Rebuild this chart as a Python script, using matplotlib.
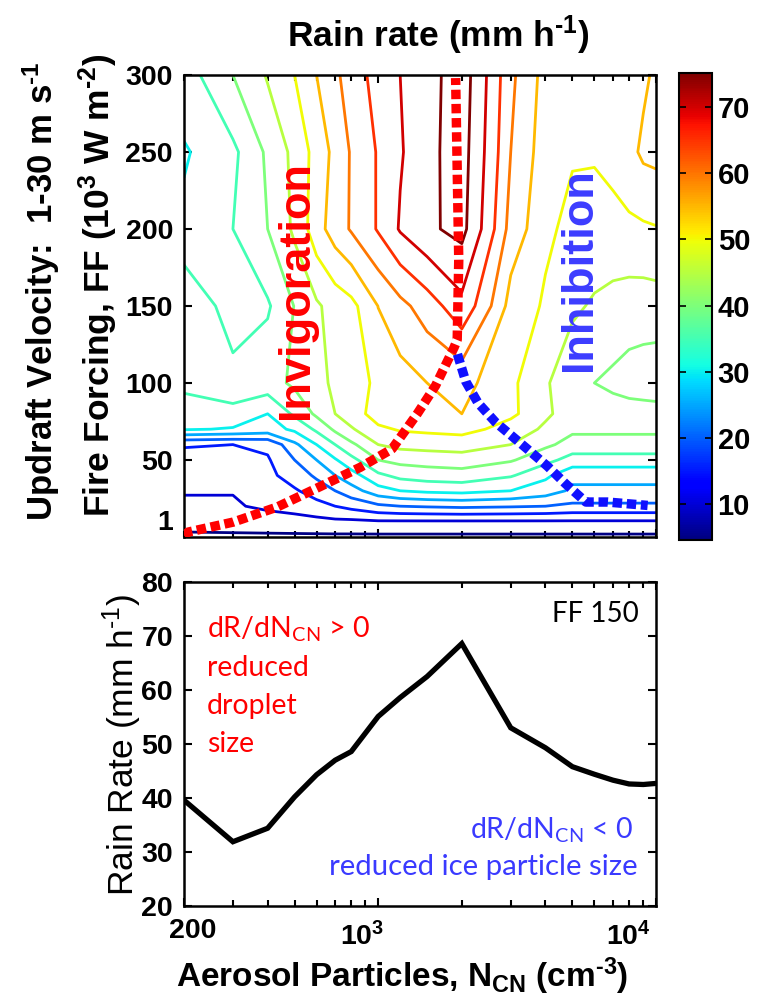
import numpy as np
import matplotlib
matplotlib.use("Agg")
import matplotlib.pyplot as plt
from matplotlib.colors import Normalize
from matplotlib.cm import ScalarMappable
from matplotlib.ticker import LogLocator, NullFormatter, FixedLocator

plt.rcParams['font.family'] = ['Liberation Sans', 'DejaVu Sans']
plt.rcParams['mathtext.fontset'] = 'custom'
plt.rcParams['mathtext.rm'] = 'Liberation Sans'
plt.rcParams['mathtext.bf'] = 'Liberation Sans:bold'
plt.rcParams['mathtext.sf'] = 'Lato'

# ---- data -------------------------------------------------------------
n_cn = [200, 300, 400, 500, 600, 700, 800, 1000, 1200, 1500, 2000,
        3000, 4000, 5000, 6000, 7000, 8000, 9000, 10000]
fire_forcing = [1, 10, 20, 30, 40, 50, 60, 70, 80, 100, 150, 200, 250, 300]

rain_ff1 = [4.5] * 19
rain_ff10 = [6.5, 7, 7.5, 8, 8.5, 9, 9, 9.5, 9.5, 9.5, 9.5, 9.5, 9.5, 9.5, 9.5, 9.5, 9.5, 9.5, 9.5]
rain_ff20 = [9.5, 9.5, 11, 12, 13.5, 15, 16.5, 19, 20, 20.5, 21, 20.5, 20, 19, 19, 19, 19, 19, 19]
rain_ff30 = [10.2, 10.2, 13, 14.5, 17, 20, 23, 28, 30, 31, 31.5, 30, 27.5, 24, 24, 24, 24, 24, 24]
rain_ff40 = [12, 12.5, 14, 17, 21, 25, 28, 34, 36.5, 37.5, 38, 35.5, 31, 26.5, 26.5, 26.5, 26.5, 26.5, 26.5]
rain_ff50 = [13, 13.5, 14.5, 20, 25, 29.5, 33.5, 40, 41.5, 42, 42.5, 40.5, 36.5, 33, 33, 33, 33, 33, 33]
rain_ff60 = [15.5, 15, 16, 24, 30, 35, 39, 45, 46.5, 47, 47.5, 45, 41, 38, 38, 38, 38, 38, 38]
rain_ff70 = [30.5, 29.5, 28, 31, 36, 41, 44.5, 49, 50.5, 51, 51.5, 48, 44, 41, 41, 41, 41, 41, 41]
rain_ff80 = [33, 34, 30, 36, 41, 45, 47.5, 52.5, 54, 54.5, 55, 51, 46, 42, 42, 42, 42, 42, 42]
rain_ff100 = [36, 37, 38, 41, 43.5, 46, 48, 51, 53, 55, 56.5, 51, 45.5, 42, 40, 39, 38, 37.5, 37]
rain_ff150 = [39.6, 31.9, 34.4, 40.2, 44.3, 47.0, 48.6, 55.1, 58.6, 62.5, 68.6,
              53.0, 49.3, 45.8, 44.4, 43.3, 42.6, 42.5, 42.7]
rain_ff200 = [31, 35, 40, 46, 53, 57.5, 60.5, 65.5, 70.5, 74.2, 76.5, 58, 51, 48.5, 48, 48.5, 49, 49.3, 49.7]
rain_ff250 = [29.5, 34, 41, 46.5, 52, 56.5, 60.5, 65.5, 69.5, 74, 77, 60, 52, 50.5, 50.5, 51.5, 53.5, 56, 56.5]
rain_ff300 = [33, 40, 45.5, 50, 55, 59, 62.5, 67, 70, 73.5, 77.5, 61, 53, 51.5, 51, 51.5, 52.5, 54, 56]

contour_levels = [5, 10, 15, 20, 25, 30, 35, 40, 45, 50, 55, 60, 65, 70, 75]
cbar_ticks = [10, 20, 30, 40, 50, 60, 70]

# regime boundaries (N_CN, FF)
invig_n = [200, 207, 301, 432, 619, 863, 1122, 1381, 1608, 1875, 1925, 1950, 1900]
invig_ff = [1, 3.2, 9.7, 19.4, 32.8, 45.3, 57.2, 79.9, 98.2, 123, 128, 180, 298]
inhib_n = [1929, 2066, 2288, 2645, 3398, 4065, 4730, 5594, 6692, 9330]
inhib_ff = [118.7, 101, 87, 74.5, 58, 46, 34.5, 22.7, 22.7, 20.5]

# rain rate along FF = 150
line_n = n_cn
line_rain = rain_ff150

x_tick_values = [200, 1000, 10000]

# ---- figure -----------------------------------------------------------
W, H = 767, 1006
fig = plt.figure(figsize=(W / 100, H / 100), dpi=100)


def box(l, t, r, b):
    return [l / W, 1 - b / H, (r - l) / W, (b - t) / H]


def fx(x):
    return x / W


def fy(y):
    return 1 - y / H


ax1 = fig.add_axes(box(184, 75, 656, 537))
ax2 = fig.add_axes(box(184, 582, 656, 906))
cax = fig.add_axes(box(679, 73, 712, 540))

rain = np.array([rain_ff1, rain_ff10, rain_ff20, rain_ff30, rain_ff40, rain_ff50,
                 rain_ff60, rain_ff70, rain_ff80, rain_ff100, rain_ff150,
                 rain_ff200, rain_ff250, rain_ff300])
norm = Normalize(vmin=4.5, vmax=75.2)

ax1.set_xscale('log')
X, Y = np.meshgrid(n_cn, fire_forcing)
ax1.contour(X, Y, rain, levels=contour_levels, cmap='jet', norm=norm,
            linewidths=2.0)

ax1.plot(invig_n, invig_ff, color='#ff0000', lw=6.8,
         linestyle=(0, (1, 0.5)), zorder=5)
ax1.plot(inhib_n, inhib_ff, color='#1010ff', lw=6.8,
         linestyle=(0, (1, 0.5)), zorder=5)

ax1.set_xlim(200, 10000)
ax1.set_ylim(0, 300)
ax1.set_yticks([50, 100, 150, 200, 250, 300])
ax1.set_yticklabels(['50', '100', '150', '200', '250', '300'])
ax1.xaxis.set_major_locator(FixedLocator([1000, 10000]))
ax1.xaxis.set_minor_locator(LogLocator(base=10, subs=np.arange(2, 10)))
ax1.xaxis.set_major_formatter(NullFormatter())
ax1.xaxis.set_minor_formatter(NullFormatter())

fig.text(fx(297), fy(290), 'Invigoration', rotation=90, color='#ff0000',
         fontsize=32.5, fontweight='bold', ha='center', va='center')
fig.text(fx(579), fy(270), 'Inhibition', rotation=90, color='#3c3cff',
         fontsize=32.5, fontweight='bold', ha='center', va='center')

for ax in (ax1, ax2):
    ax.tick_params(which='both', direction='in', top=True, right=True,
                   labelsize=20.5, width=1.5, pad=8)
    ax.tick_params(which='major', length=6)
    ax.tick_params(which='minor', length=4)
    for lab in ax.get_yticklabels():
        lab.set_fontweight('bold')
    for s in ax.spines.values():
        s.set_linewidth(1.8)

fig.text(fx(173), fy(523), '1', fontsize=20.5, fontweight='bold',
         ha='right', va='center')

# colour bar
cb = fig.colorbar(ScalarMappable(norm=norm, cmap='jet'), cax=cax)
cb.set_ticks(cbar_ticks)
cb.outline.set_linewidth(1.5)
cax.tick_params(direction='in', length=5, width=1.2, left=True, right=True,
                labelsize=21, pad=4)
for lab in cax.get_yticklabels():
    lab.set_fontweight('bold')

# titles and axis labels
HY = '\u2010'
sup_m1 = '$\\mathbf{^{' + HY + '1}}$'
fig.text(fx(438), fy(35), 'Rain rate (mm h' + sup_m1 + ')', fontsize=25.5,
         fontweight='bold', ha='center', va='center')
fig.text(fx(41), fy(291), 'Updraft Velocity:  1-30 m s' + sup_m1,
         rotation=90, fontsize=25, fontweight='bold', ha='center', va='center')
fig.text(fx(98), fy(285),
         'Fire Forcing, FF (10$\\mathbf{^{3}}$ W m$\\mathbf{^{' + HY + '2}}$)',
         rotation=90, fontsize=25.5, fontweight='bold', ha='center', va='center')

# ---- bottom panel -------------------------------------------------------
ax2.set_xscale('log')
ax2.plot(line_n, line_rain, color='black', lw=3.8, solid_joinstyle='miter')
ax2.set_xlim(200, 10000)
ax2.set_ylim(20, 80)
ax2.set_yticks([20, 30, 40, 50, 60, 70, 80])
ax2.xaxis.set_major_locator(FixedLocator(x_tick_values))
ax2.xaxis.set_minor_locator(LogLocator(base=10, subs=np.arange(2, 10)))
ax2.xaxis.set_major_formatter(NullFormatter())
ax2.xaxis.set_minor_formatter(NullFormatter())
for lab in ax2.get_yticklabels():
    lab.set_fontweight('bold')
    lab.set_fontsize(20.5)

fig.text(fx(193), fy(938), '200', fontsize=20.5, fontweight='bold',
         ha='center', va='baseline')
fig.text(fx(362), fy(945), '10$\\mathbf{^{3}}$', fontsize=20.5,
         fontweight='bold', ha='center', va='baseline')
fig.text(fx(628), fy(945), '10$\\mathbf{^{4}}$', fontsize=20.5,
         fontweight='bold', ha='center', va='baseline')

fig.text(fx(122), fy(745), 'Rain Rate (mm h$\\mathrm{^{' + HY + '1}}$)',
         fontsize=25.5, rotation=90, ha='center', va='center')
fig.text(fx(402), fy(976),
         'Aerosol Particles, N$\\mathbf{_{CN}}$ (cm$\\mathbf{^{' + HY + '3}}$)',
         fontsize=24, fontweight='bold', ha='center', va='center')

fig.text(fx(552), fy(622), 'FF 150', fontsize=20, family='Lato',
         ha='left', va='baseline')
red_lines = [r'dR/dN$_{\mathsf{CN}}$ > 0', 'reduced', 'droplet', 'size']
for i, s in enumerate(red_lines):
    fig.text(fx(207), fy(637 + 38.5 * i), s, fontsize=20.5, family='Lato',
             color='#ff0000', ha='left', va='baseline')
fig.text(fx(633), fy(838), r'dR/dN$_{\mathsf{CN}}$ < 0', fontsize=20.5,
         family='Lato', color='#3a3aff', ha='right', va='baseline')
fig.text(fx(638), fy(875), 'reduced ice particle size', fontsize=21.2,
         family='Lato', color='#3a3aff', ha='right', va='baseline')

fig.savefig('out.png', dpi=100)
